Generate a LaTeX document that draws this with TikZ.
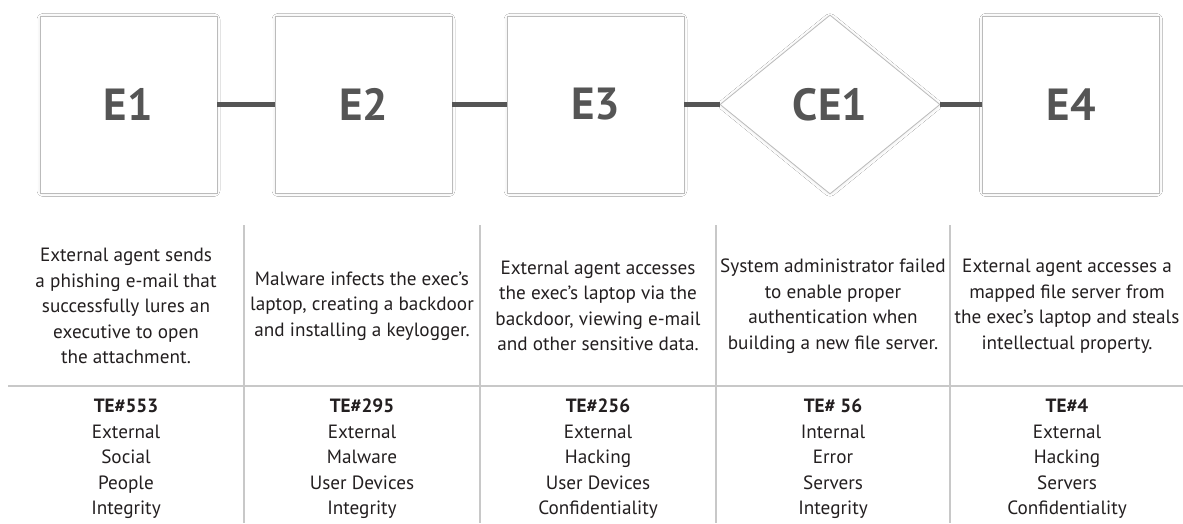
\documentclass[tikz,border=0pt]{standalone}
\usepackage{fontspec}
\setmainfont{PT Sans}
\usetikzlibrary{shapes.geometric,shadows.blur}
\definecolor{boxgray}{HTML}{BBBBBB}
\definecolor{labelgray}{HTML}{555555}
\definecolor{rulegray}{HTML}{C8C8C8}
\definecolor{textblack}{HTML}{231F20}

\begin{document}
\begin{tikzpicture}[x=1pt,y=1pt]
                        \tikzstyle{event}=[draw=boxgray, fill=white, line width=0.8pt, minimum size=177pt, inner sep=0pt, text=labelgray, font=\fontsize{45}{54}\selectfont\bfseries, blur shadow={shadow xshift=0pt, shadow yshift=-0.5pt, shadow blur radius=3pt, shadow blur steps=8, shadow opacity=10, shadow blur extra rounding=3pt}]
                        \tikzstyle{cond}=[event, diamond, minimum width=220pt, minimum height=179pt]
                        \tikzstyle{link}=[draw=labelgray, line width=5pt]
                        \tikzstyle{desc}=[align=center, text=textblack, inner sep=0pt, font=\fontsize{19.2}{25.5}\selectfont]
                        \tikzstyle{rule}=[draw=rulegray, line width=1.3pt]
                        \fill[white] (0,0) rectangle (1183,523);
                        \useasboundingbox (0,0) rectangle (1183,523);
                        \draw[rule] (8,137) -- (1183,137);
                        \draw[rule] (244,298) -- (244,0);
                        \draw[rule] (480,298) -- (480,0);
                        \draw[rule] (716,298) -- (716,0);
                        \draw[rule] (950,298) -- (950,0);
                        \node[event] (e1) at (128.5,418.5) {E1};
                        \node[event] (e2) at (363.5,418.5) {E2};
                        \node[event] (e3) at (595.5,418.5) {E3};
                        \node[cond] (ce1) at (830,418.5) {CE1};
                        \node[event] (e4) at (1071,418.5) {E4};
                        \draw[link] (e1) -- (e2);
                        \draw[link] (e2) -- (e3);
                        \draw[link] (e3) -- (ce1);
                        \draw[link] (ce1) -- (e4);
                        \node[desc] (d1) at (126,217) {External agent sends\\a phishing e-mail that\\successfully lures an\\executive to open\\the attachment.};
                        \node[desc] (d2) at (362,217) {Malware infects the exec's\\laptop, creating a backdoor\\and installing a keylogger.};
                        \node[desc] (d3) at (598,217) {External agent accesses\\the exec's laptop via the\\backdoor, viewing e-mail\\and other sensitive data.};
                        \node[desc] (d4) at (833,217) {System administrator failed\\to enable proper\\authentication when\\building a new file server.};
                        \node[desc] (d5) at (1067,217) {External agent accesses a\\mapped file server from\\the exec's laptop and steals\\intellectual property.};
                        \node[desc] (t1) at (126,64) {\textbf{TE\#553}\\External\\Social\\People\\Integrity};
                        \node[desc] (t2) at (362,64) {\textbf{TE\#295}\\External\\Malware\\User Devices\\Integrity};
                        \node[desc] (t3) at (598,64) {\textbf{TE\#256}\\External\\Hacking\\User Devices\\Confidentiality};
                        \node[desc] (t4) at (833,64) {\textbf{TE\# 56}\\Internal\\Error\\Servers\\Integrity};
                        \node[desc] (t5) at (1067,64) {\textbf{TE\#4}\\External\\Hacking\\Servers\\Confidentiality};
                    \end{tikzpicture}
\end{document}
